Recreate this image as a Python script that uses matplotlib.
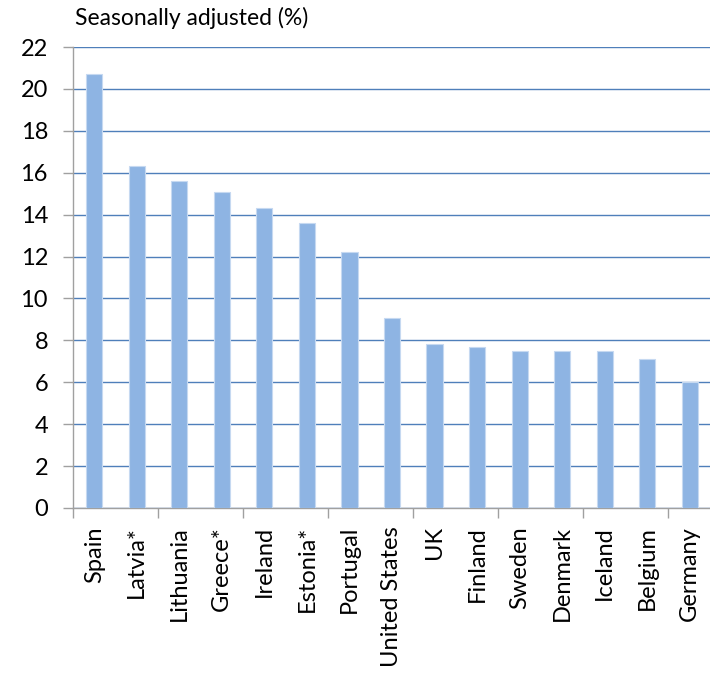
import matplotlib
matplotlib.use('Agg')
import matplotlib.pyplot as plt
import numpy as np

## datos del grafico (desempleo, ajustado por estacionalidad)
paises = ['Spain', 'Latvia*', 'Lithuania', 'Greece*', 'Ireland', 'Estonia*', 'Portugal',
          'United States', 'UK', 'Finland', 'Sweden', 'Denmark', 'Iceland', 'Belgium', 'Germany']
valores = [20.7, 16.3, 15.6, 15.1, 14.3, 13.6, 12.2, 9.05, 7.85, 7.7, 7.5, 7.5, 7.5, 7.1, 6.0]
yticks = np.arange(0, 23, 2)

plt.rcParams['font.family'] = ['Lato', 'DejaVu Sans']

fig = plt.figure(figsize=(7.1, 6.74), dpi=100)
ax = fig.add_axes([73/710, 1 - 508/674, 638/710, (508 - 47)/674])

x = np.arange(len(paises))
ax.bar(x, valores, width=0.38, color='#8eb4e3', edgecolor='#c6d9f1', linewidth=0.8, zorder=3)

# lineas horizontales
ax.set_ylim(0, 22)
ax.set_yticks(yticks)
ax.yaxis.grid(True, color='#4f7fba', linewidth=1.0, zorder=0)
ax.set_xlim(-0.5, len(paises) - 0.5)

ax.set_xticks(x)
ax.set_xticklabels(paises, rotation=90, fontsize=17)
ax.tick_params(axis='x', length=0, pad=13)
ax.set_xticks(np.arange(-0.5, len(paises) - 0.5, 2), minor=True)
ax.tick_params(axis='x', which='minor', length=7, color='#a0a0a0', width=1.0)
ax.tick_params(axis='y', labelsize=17, length=7, color='#a0a0a0', width=1.0, pad=11)

for lado in ['top', 'right']:
    ax.spines[lado].set_visible(False)
for lado in ['left', 'bottom']:
    ax.spines[lado].set_color('#a0a0a0')
    ax.spines[lado].set_linewidth(1.0)

fig.text(75/710, 1 - 7/674, 'Seasonally adjusted (%)', fontsize=16.5, ha='left', va='top')

plt.savefig('out.png', dpi=100)
plt.close('all')
